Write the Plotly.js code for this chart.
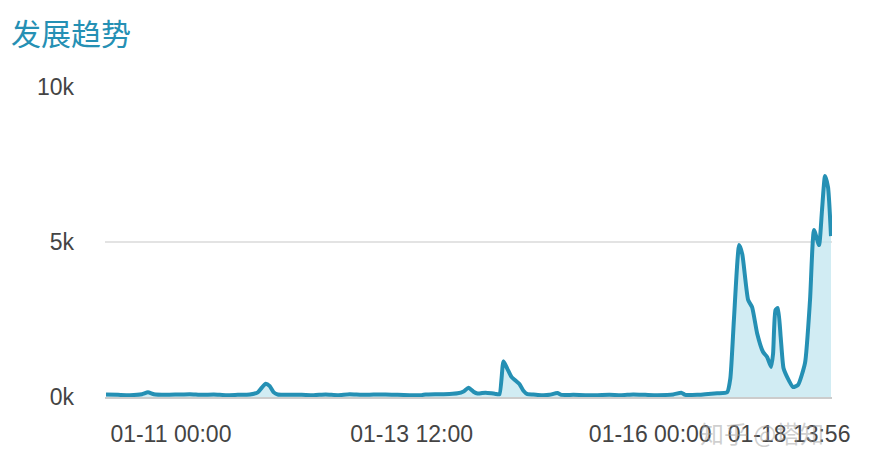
<!DOCTYPE html>
<html>
<head>
<meta charset="utf-8">
<script src="https://cdn.plot.ly/plotly-3.0.1.min.js"></script>
<style>html,body{margin:0;padding:0;background:#fff;}#chart{width:870px;height:464px;}</style>
</head>
<body>
<div id="chart"></div>
<script>
// hours from start of series
const hours = [0,3,6,9,10.5,12,15,18,21,24,27,30,33,36,38,39,40,41,42,43,46,49,52,55,58,61,64,67,70,73,76,79,80,83,86,88,89.5,90.75,92,93,95,96.5,97.5,98.5,99.5,100.5,101.5,102.5,103.5,104.5,105.5,107,109,111,113,114,117,120,123,126,129,132,135,138,142,144,145,148,150,153,155.5,156.3,157.2,158.5,159.3,160.75,161.75,163,164.5,165.5,166.5,167,167.6,168.2,168.9,169.6,170.5,172,173.25,175,176.25,177.25,178.5,179.25,180,180.75,181.5];
const views = [80,70,60,90,150,90,70,80,90,70,80,60,70,80,150,300,430,350,150,80,70,70,60,80,60,90,70,80,80,70,60,60,80,90,100,120,180,300,170,110,140,120,100,90,1150,900,650,530,420,200,90,80,60,70,130,70,70,60,60,70,60,80,70,60,80,140,70,70,90,120,150,600,2500,4900,4600,3130,2900,2060,1450,1290,970,1400,2800,2870,1940,935,650,320,390,1100,3130,5390,4900,6030,7130,6770,5190];
const xTickPos = [16.25, 76.5, 136.25, 171];
const xTickLabels = ['01-11 00:00','01-13 12:00','01-16 00:00','01-18 13:56'];
const yTickVals = [0,5000,10000];
const yTickLabels = ['0k','5k','10k'];

const trace = {
  x: hours, y: views, type: 'scatter', mode: 'lines',
  line: {color: '#2590b4', width: 4, shape: 'spline', smoothing: 0.5},
  fill: 'tozeroy', fillcolor: 'rgba(190,228,238,0.7)',
  hoverinfo: 'skip'
};
const font = '"Liberation Sans", "Noto Sans CJK SC", sans-serif';
const layout = {
  width: 870, height: 464,
  margin: {l: 105, r: 38, t: 87, b: 67},
  paper_bgcolor: '#fff', plot_bgcolor: '#fff',
  showlegend: false,
  font: {family: font, color: '#444', size: 23},
  title: {text: '发展趋势', x: 11/870, xref: 'container', xanchor: 'left', y: 1 - 34/464, yref: 'container', yanchor: 'middle',
          font: {family: '"Noto Sans CJK SC", sans-serif', size: 30, color: '#2590b4'}},
  xaxis: {range: [-0.25, 181.75], tickvals: xTickPos, ticktext: xTickLabels, showgrid: false, zeroline: false,
          showline: true, linecolor: '#cccccc', linewidth: 2, ticks: '', ticklabelstandoff: 15,
          tickfont: {size: 23, color: '#444'}, fixedrange: true},
  yaxis: {range: [0, 10000], tickvals: yTickVals, ticktext: yTickLabels, showgrid: true, gridcolor: '#e3e3e3', gridwidth: 2,
          zeroline: false, showline: false, ticks: '', ticklabelstandoff: 30,
          tickfont: {size: 23, color: '#444'}, fixedrange: true},
  annotations: [{
    text: '知乎 @塔知', xref: 'paper', yref: 'paper', x: 0.904, y: -0.115, xanchor: 'center', yanchor: 'middle',
    showarrow: false, font: {family: '"Noto Sans CJK SC", sans-serif', size: 24, color: 'rgba(160,160,160,0.5)'}
  }]
};
Plotly.newPlot('chart', [trace], layout, {displayModeBar: false, staticPlot: true});
</script>
</body>
</html>
